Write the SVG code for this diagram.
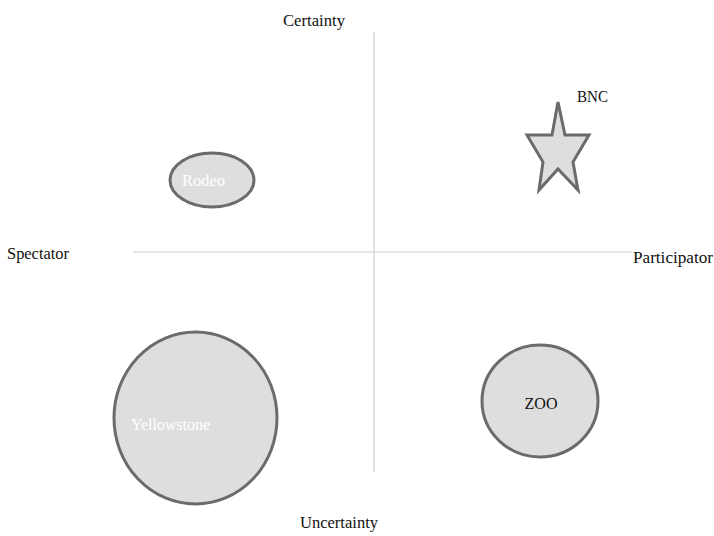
<svg xmlns="http://www.w3.org/2000/svg" width="714" height="536" viewBox="0 0 714 536">
<style>
.t{font-family:"Liberation Serif","DejaVu Serif",serif;font-size:17px;fill:#111}
.w{fill:#ffffff}
.s{fill:#dedede;stroke:#6b6b6b;stroke-width:3}
.ax{stroke:#d0d0d0;stroke-width:1.2;fill:none}
</style>
<rect width="714" height="536" fill="#ffffff"/>
<g id="connectors">
<line class="ax" x1="374" y1="32" x2="374" y2="472"/>
<line class="ax" x1="133" y1="252" x2="632" y2="252"/>
</g>
<g id="certainty"><text class="t" x="314" y="26" text-anchor="middle" textLength="62" lengthAdjust="spacingAndGlyphs">Certainty</text></g>
<g id="uncertainty"><text class="t" x="339" y="528" text-anchor="middle" textLength="78" lengthAdjust="spacingAndGlyphs">Uncertainty</text></g>
<g id="spectator"><text class="t" x="7" y="259" textLength="62" lengthAdjust="spacingAndGlyphs">Spectator</text></g>
<g id="participator"><text class="t" x="633" y="263" textLength="80" lengthAdjust="spacingAndGlyphs">Participator</text></g>
<g id="rodeo">
<ellipse class="s" cx="212" cy="180" rx="42" ry="27"/>
<text class="t w" x="182" y="186" textLength="43" lengthAdjust="spacingAndGlyphs">Rodeo</text>
</g>
<g id="bnc">
<polygon class="s" points="558,102 565,135 589,135 573,162 578,190 558,169 539,190 543,162 527,135 552,135" stroke-linejoin="miter"/>
<text class="t" x="577" y="102" textLength="31" lengthAdjust="spacingAndGlyphs">BNC</text>
</g>
<g id="yellowstone">
<ellipse class="s" cx="195.5" cy="418" rx="81.5" ry="86"/>
<text class="t w" x="131" y="430" textLength="79" lengthAdjust="spacingAndGlyphs">Yellowstone</text>
</g>
<g id="zoo">
<ellipse class="s" cx="540" cy="401" rx="58" ry="56"/>
<text class="t" x="541" y="409" text-anchor="middle" textLength="33" lengthAdjust="spacingAndGlyphs">ZOO</text>
</g>
</svg>
